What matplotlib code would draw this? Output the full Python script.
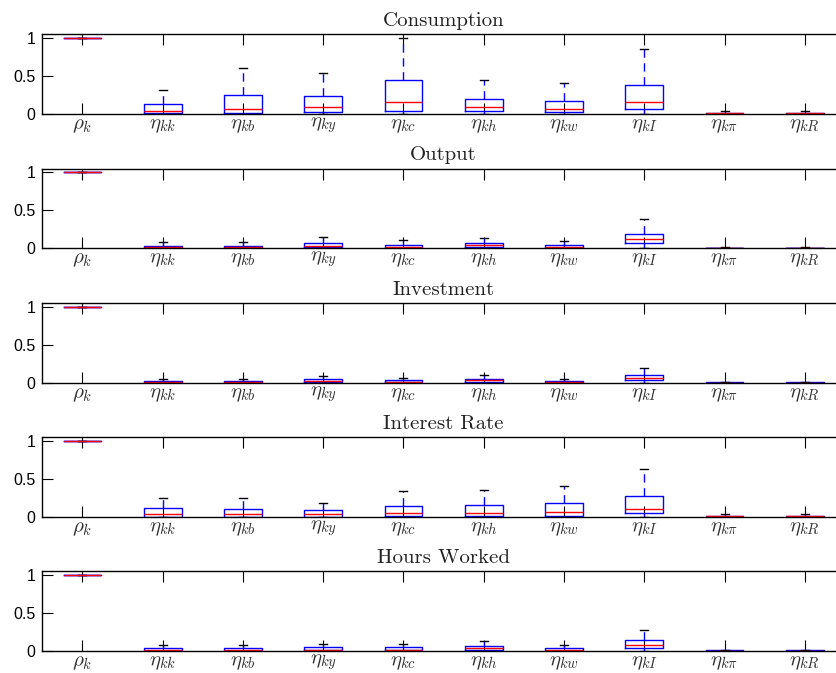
import matplotlib
matplotlib.use("Agg")
import matplotlib.pyplot as plt

plt.rcParams['mathtext.fontset'] = 'cm'

params = [r'$\rho_k$', r'$\eta_{kk}$', r'$\eta_{kb}$', r'$\eta_{ky}$', r'$\eta_{kc}$',
          r'$\eta_{kh}$', r'$\eta_{kw}$', r'$\eta_{kI}$', r'$\eta_{k\pi}$', r'$\eta_{kR}$']
titles = ['Consumption', 'Output', 'Investment', 'Interest Rate', 'Hours Worked']

# quartiles, medians and upper whiskers
cons_q1 = [1, 0.01, 0.005, 0.027, 0.04, 0.03, 0.02, 0.06, 0.0, 0.0]
cons_med = [1, 0.04, 0.067, 0.09, 0.16, 0.084, 0.067, 0.16, 0.005, 0.005]
cons_q3 = [1, 0.13, 0.25, 0.23, 0.44, 0.196, 0.173, 0.38, 0.012, 0.012]
cons_hi = [1, 0.31, 0.60, 0.54, 1.0, 0.44, 0.40, 0.85, 0.03, 0.03]

out_q1 = [1, 0.0, 0.0, 0.01, 0.005, 0.01, 0.0, 0.06, 0, 0]
out_med = [1, 0.01, 0.01, 0.03, 0.015, 0.035, 0.01, 0.115, 0.002, 0.002]
out_q3 = [1, 0.03, 0.03, 0.06, 0.036, 0.06, 0.035, 0.19, 0.005, 0.005]
out_hi = [1, 0.08, 0.08, 0.14, 0.10, 0.13, 0.09, 0.385, 0.01, 0.01]

inv_q1 = [1, 0, 0, 0.005, 0.003, 0.01, 0, 0.03, 0, 0]
inv_med = [1, 0.01, 0.01, 0.02, 0.012, 0.03, 0.008, 0.062, 0.002, 0.002]
inv_q3 = [1, 0.027, 0.025, 0.045, 0.03, 0.05, 0.02, 0.1, 0.005, 0.005]
inv_hi = [1, 0.05, 0.05, 0.09, 0.066, 0.1, 0.05, 0.19, 0.008, 0.008]

rate_q1 = [1, 0.003, 0.003, 0.003, 0.005, 0.005, 0.005, 0.045, 0, 0]
rate_med = [1, 0.035, 0.035, 0.03, 0.045, 0.053, 0.058, 0.106, 0.004, 0.005]
rate_q3 = [1, 0.11, 0.106, 0.085, 0.14, 0.16, 0.177, 0.28, 0.01, 0.015]
rate_hi = [1, 0.25, 0.243, 0.185, 0.335, 0.36, 0.41, 0.635, 0.03, 0.035]

hours_q1 = [1, 0, 0, 0.003, 0.003, 0.005, 0, 0.04, 0, 0]
hours_med = [1, 0.005, 0.005, 0.01, 0.01, 0.035, 0.008, 0.075, 0.001, 0.001]
hours_q3 = [1, 0.03, 0.03, 0.045, 0.045, 0.058, 0.03, 0.137, 0.004, 0.004]
hours_hi = [1, 0.075, 0.075, 0.09, 0.09, 0.128, 0.07, 0.27, 0.006, 0.006]

panels = [
    (cons_q1, cons_med, cons_q3, cons_hi),
    (out_q1, out_med, out_q3, out_hi),
    (inv_q1, inv_med, inv_q3, inv_hi),
    (rate_q1, rate_med, rate_q3, rate_hi),
    (hours_q1, hours_med, hours_q3, hours_hi),
]

fig = plt.figure(figsize=(8.37, 6.73), dpi=100)
bottoms = [0.831, 0.6315, 0.4314, 0.2322, 0.0331]
positions = list(range(1, len(params) + 1))

for i, (q1, med, q3, hi) in enumerate(panels):
    # axes run past the right edge, like the cropped original
    ax = fig.add_axes([0.0505, bottoms[i], 0.959, 0.118])
    stats = []
    for j in range(len(params)):
        lo = 1 if j == 0 else 0
        stats.append({'med': med[j], 'q1': q1[j], 'q3': q3[j],
                      'whislo': lo, 'whishi': hi[j], 'fliers': []})
    ax.bxp(stats, positions=positions, widths=0.47, capwidths=0.1,
           showfliers=False,
           boxprops=dict(color='blue', linewidth=1.0),
           medianprops=dict(color='red', linewidth=1.0),
           whiskerprops=dict(color='blue', linewidth=1.0, linestyle=(0, (6, 4))),
           capprops=dict(color='black', linewidth=1.0))
    ax.set_xlim(0.5, 10.5)
    ax.set_ylim(0, 1.05)
    ax.set_yticks([0, 0.5, 1])
    ax.set_yticklabels(['0', '0.5', '1'], fontfamily='Liberation Sans', fontsize=11.5)
    ax.set_xticks(positions)
    ax.set_xticklabels(params, fontsize=15, color='#333333')
    ax.tick_params(direction='in', length=8, width=0.8, top=True, right=False)
    ax.tick_params(axis='x', pad=1)
    ax.tick_params(axis='y', pad=5)
    for s in ax.spines.values():
        s.set_linewidth(1.0)
    ax.spines['right'].set_visible(False)
    ax.set_title(titles[i], fontfamily='cmr10', fontsize=15, pad=6, color='#222222')

fig.savefig('out.png', dpi=100)
